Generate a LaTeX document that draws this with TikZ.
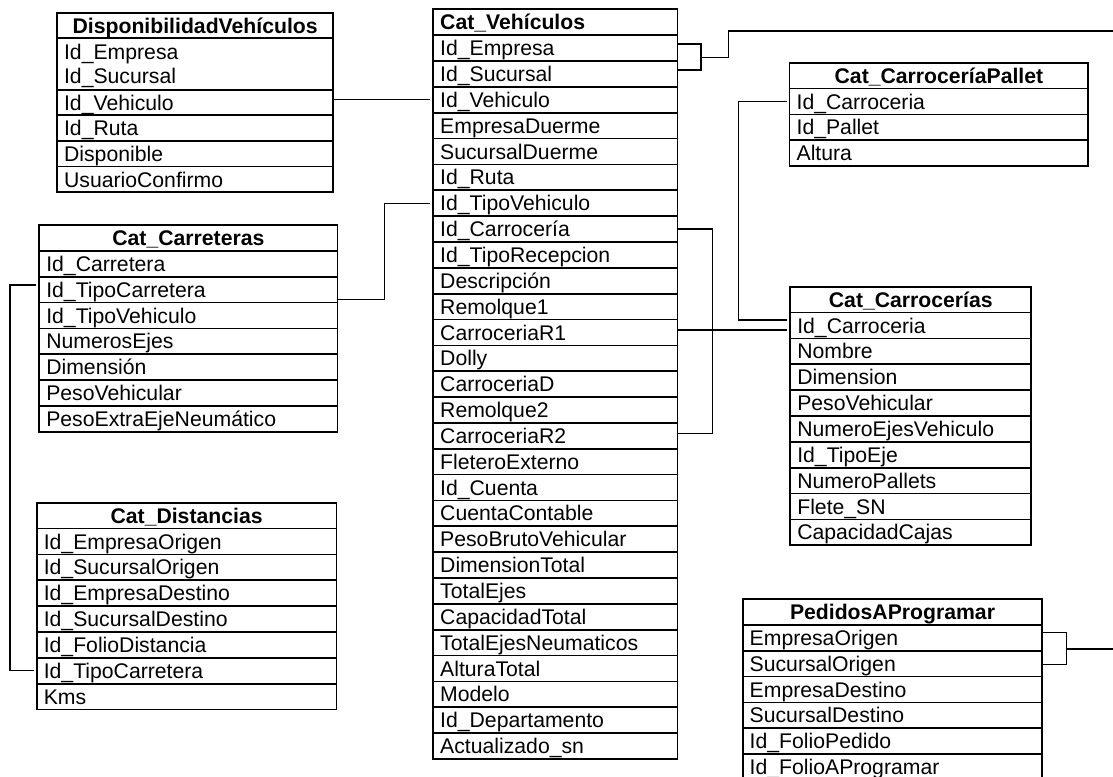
\documentclass[tikz,border=0pt]{standalone}
\usepackage{fontspec}
\setmainfont{Liberation Sans}
\usetikzlibrary{positioning}
\newcommand\fldfont{\fontsize{21.2}{24.3}\selectfont}

\begin{document}
\begin{tikzpicture}[
  x=1pt, y=-1pt,
  fld/.style={draw,line width=1.7pt,outer sep=0pt,inner xsep=7pt,inner ysep=0pt,minimum height=25.85pt,
    text width=#1-14pt,align=left,text height=15.2pt,text depth=0pt,font=\fldfont},
  hdr/.style={fld=#1,align=center,font=\fldfont\bfseries},
  dvfld/.style={fld=276.1pt,minimum height=25.65pt},
  conn/.style={line width=1.2pt}
]
\path[use as bounding box,fill=white] (0,0) rectangle (1113,776);

% DisponibilidadVehiculos
\node[dvfld,hdr=276.1pt,minimum height=25.65pt,anchor=north west] (dv0) at (57.1,12.7) {DisponibilidadVehículos};
\node[dvfld,below=0pt of dv0,minimum height=51.3pt,text depth=24.3pt] (dv1) {Id\_Empresa\\Id\_Sucursal};
\foreach \f [count=\i from 2, remember=\i as \j (initially 1)] in
  {Id\_Vehiculo,Id\_Ruta,Disponible,UsuarioConfirmo}
  \node[dvfld,below=0pt of dv\j] (dv\i) {\f};

% Cat_Vehiculos
\node[hdr=244.2pt,align=left,anchor=north west] (veh0) at (433.2,9.3) {Cat\_Vehículos};
\foreach \f [count=\i, remember=\i as \j (initially 0)] in
  {Id\_Empresa,Id\_Sucursal,Id\_Vehiculo,EmpresaDuerme,SucursalDuerme,Id\_Ruta,
   Id\_TipoVehiculo,Id\_Carrocería,Id\_TipoRecepcion,Descripción,Remolque1,CarroceriaR1,
   Dolly,CarroceriaD,Remolque2,CarroceriaR2,FleteroExterno,Id\_Cuenta,CuentaContable,
   PesoBrutoVehicular,DimensionTotal,TotalEjes,CapacidadTotal,TotalEjesNeumaticos,
   AlturaTotal,Modelo,Id\_Departamento,Actualizado\_sn}
  \node[fld=244.2pt,below=0pt of veh\j] (veh\i) {\f};

% Cat_Carreteras
\node[hdr=298.2pt,anchor=north west] (car0) at (39.3,225) {Cat\_Carreteras};
\foreach \f [count=\i, remember=\i as \j (initially 0)] in
  {Id\_Carretera,Id\_TipoCarretera,Id\_TipoVehiculo,NumerosEjes,Dimensión,
   PesoVehicular,PesoExtraEjeNeumático}
  \node[fld=298.2pt,below=0pt of car\j] (car\i) {\f};

% Cat_Distancias
\node[hdr=299.6pt,anchor=north west] (dist0) at (36.8,502.7) {Cat\_Distancias};
\foreach \f [count=\i, remember=\i as \j (initially 0)] in
  {Id\_EmpresaOrigen,Id\_SucursalOrigen,Id\_EmpresaDestino,Id\_SucursalDestino,
   Id\_FolioDistancia,Id\_TipoCarretera,Kms}
  \node[fld=299.6pt,below=0pt of dist\j] (dist\i) {\f};

% Cat_CarroceriaPallet
\node[hdr=298.7pt,anchor=north west] (pal0) at (789.6,62.7) {Cat\_CarroceríaPallet};
\foreach \f [count=\i, remember=\i as \j (initially 0)] in
  {Id\_Carroceria,Id\_Pallet,Altura}
  \node[fld=298.7pt,below=0pt of pal\j] (pal\i) {\f};

% Cat_Carrocerias
\node[hdr=241pt,anchor=north west] (crr0) at (790.3,286.7) {Cat\_Carrocerías};
\foreach \f [count=\i, remember=\i as \j (initially 0)] in
  {Id\_Carroceria,Nombre,Dimension,PesoVehicular,NumeroEjesVehiculo,Id\_TipoEje,
   NumeroPallets,Flete\_SN,CapacidadCajas}
  \node[fld=241pt,below=0pt of crr\j] (crr\i) {\f};

% PedidosAProgramar
\node[hdr=299.6pt,anchor=north west] (ped0) at (742.7,599) {PedidosAProgramar};
\foreach \f [count=\i, remember=\i as \j (initially 0)] in
  {EmpresaOrigen,SucursalOrigen,EmpresaDestino,SucursalDestino,Id\_FolioPedido,
   Id\_FolioAProgramar}
  \node[fld=299.6pt,below=0pt of ped\j] (ped\i) {\f};

% connectors
\coordinate (crrA) at ([yshift=-4.5pt]crr1.west);
\coordinate (crrB) at ([yshift=5.5pt]crr1.west);
\coordinate (vehk) at ([xshift=23.6pt,yshift=3.5pt]veh1.south east);
\coordinate (pedk) at ([xshift=24.3pt,yshift=1.7pt]ped1.south east);
\coordinate (offA) at (1120,31);
\coordinate (edgeR) at (1120,0);

\draw[conn,shorten >=3pt] (dv2.east |- veh3.west) -- (veh3.west);
\draw[conn,shorten >=3pt] ([yshift=-10pt]car2.east) -- ++(47,0) |- (veh7.west);
\draw[conn,shorten <=3.5pt,shorten >=3pt] ([yshift=4.6pt]car2.west) -- ++(-29.3,0) |- (dist6.west);
\draw[conn] ([yshift=4pt]veh1.east) -| ([xshift=23.6pt,yshift=4pt]veh2.east) -- ([yshift=4pt]veh2.east);
\draw[conn] (vehk) -- ++(27.2,0) |- (offA);
\draw[conn] (veh8.east) -- ++(35.3,0) |- ([yshift=2.5pt]veh16.east);
\draw[conn,shorten >=3pt] (veh12.east |- crrA) -- (crrA);
\draw[conn,shorten <=3pt,shorten >=3pt] (pal1.west) -- ++(-50.9,0) |- (crrB);
\draw[conn] ([yshift=5pt]ped1.east) -| ([xshift=24.3pt,yshift=-1pt]ped2.east) -- ([yshift=-1pt]ped2.east);
\draw[conn] (pedk) -- (pedk -| edgeR);
\end{tikzpicture}
\end{document}
